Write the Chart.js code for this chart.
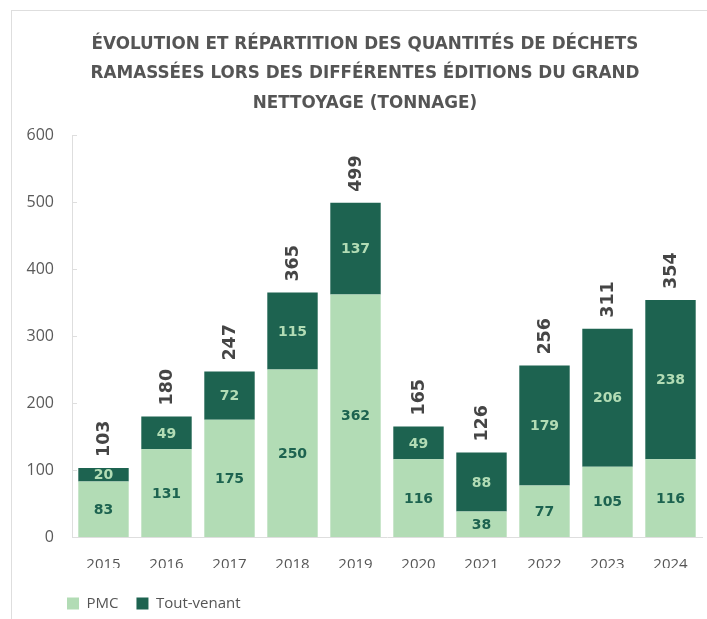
<!DOCTYPE html>
<html>
<head>
<meta charset="utf-8">
<script src="https://cdn.jsdelivr.net/npm/chart.js@4/dist/chart.umd.min.js"></script>
<style>
  html, body { margin: 0; padding: 0; background: #fff; }
  #wrap { position: relative; width: 707px; height: 619px; overflow: hidden; }
  #card { position: absolute; left: 11px; top: 10px; width: 760px; height: 700px; border: 1px solid #dedede; box-sizing: border-box; }
  canvas { position: absolute; left: 0; top: 0; }
</style>
</head>
<body>
<div id="wrap">
  <div id="card"></div>
  <canvas id="c" width="707" height="619"></canvas>
</div>
<script>
const categories = ['2015','2016','2017','2018','2019','2020','2021','2022','2023','2024'];
const pmc        = [83, 131, 175, 250, 362, 116, 38, 77, 105, 116];
const toutVenant = [20, 49, 72, 115, 137, 49, 88, 179, 206, 238];
const totals     = [103, 180, 247, 365, 499, 165, 126, 256, 311, 354];
const yTicks     = [0, 100, 200, 300, 400, 500, 600];
const titleLines = ['ÉVOLUTION ET RÉPARTITION DES QUANTITÉS DE DÉCHETS',
                    'RAMASSÉES LORS DES DIFFÉRENTES ÉDITIONS DU GRAND',
                    'NETTOYAGE (TONNAGE)'];

const LIGHT = '#b2dcb5';
const DARK = '#1d6350';
const HEAVY = '"DejaVu Sans", sans-serif';
const LIGHTFONT = '"Open Sans", "Noto Sans", sans-serif';

const barLabels = {
  id: 'barLabels',
  afterLayout(chart) {
    const lg = chart.legend;
    if (lg) { lg.left += 37; lg.right += 37; lg.top += 10; lg.bottom += 10; }
    const tb = chart.titleBlock;
    if (tb) { tb.left += 16; }
  },
  afterDatasetsDraw(chart) {
    const ctx = chart.ctx;
    const ys = chart.scales.y;
    ctx.save();
    ctx.strokeStyle = '#dedede';
    ctx.lineWidth = 1;
    yTicks.forEach(v => {
      const py = Math.round(ys.getPixelForValue(v)) + 0.5;
      ctx.beginPath();
      ctx.moveTo(chart.chartArea.left, py);
      ctx.lineTo(chart.chartArea.left + 5, py);
      ctx.stroke();
    });
    ctx.restore();

    chart.data.datasets.forEach((ds, i) => {
      const meta = chart.getDatasetMeta(i);
      meta.data.forEach((bar, j) => {
        const p = bar.getProps(['x', 'y', 'base'], true);
        ctx.save();
        ctx.font = 'bold 14px ' + HEAVY;
        ctx.fillStyle = ds.labelColor;
        ctx.textAlign = 'center';
        ctx.textBaseline = 'middle';
        ctx.fillText(String(ds.data[j]), p.x, (p.y + p.base) / 2 + 1);
        ctx.restore();
      });
    });
    const topMeta = chart.getDatasetMeta(1);
    topMeta.data.forEach((bar, j) => {
      const p = bar.getProps(['x', 'y'], true);
      ctx.save();
      ctx.translate(p.x, p.y - 11);
      ctx.rotate(-Math.PI / 2);
      ctx.font = 'bold 17.5px ' + HEAVY;
      ctx.fillStyle = '#454545';
      ctx.textAlign = 'left';
      ctx.textBaseline = 'middle';
      ctx.fillText(String(totals[j]), 0, 1);
      ctx.restore();
    });
  }
};

new Chart(document.getElementById('c'), {
  type: 'bar',
  data: {
    labels: categories,
    datasets: [
      { label: 'PMC', data: pmc, backgroundColor: LIGHT, labelColor: DARK, borderWidth: 0 },
      { label: 'Tout-venant', data: toutVenant, backgroundColor: DARK, labelColor: LIGHT, borderWidth: 0 }
    ]
  },
  options: {
    responsive: false,
    animation: false,
    layout: { padding: { left: 12, right: 5, top: 0, bottom: 8 } },
    datasets: { bar: { barPercentage: 0.8, categoryPercentage: 1.0 } },
    scales: {
      x: {
        stacked: true,
        grid: { display: false, drawTicks: false },
        border: { display: true, color: '#dedede' },
        ticks: { color: '#555', font: { family: LIGHTFONT, size: 15 }, padding: 19 },
        afterFit(s) { s.height = 31; }
      },
      y: {
        stacked: true,
        min: 0, max: 600,
        grid: { display: false, drawTicks: false },
        border: { display: true, color: '#dedede' },
        ticks: { stepSize: 100, color: '#5a5a5a', font: { family: LIGHTFONT, size: 16 }, padding: 18 },
        afterFit(s) { s.width = 60; }
      }
    },
    plugins: {
      title: {
        display: true,
        text: titleLines,
        color: '#555',
        font: { family: HEAVY, size: 16.8, weight: 'bold', lineHeight: 1.75 },
        padding: { top: 30, bottom: 17 }
      },
      legend: {
        position: 'bottom',
        align: 'start',
        labels: {
          boxWidth: 12, boxHeight: 12, padding: 18,
          color: '#555',
          font: { family: LIGHTFONT, size: 15 }
        }
      },
      tooltip: { enabled: false }
    }
  },
  plugins: [barLabels]
});
</script>
</body>
</html>
